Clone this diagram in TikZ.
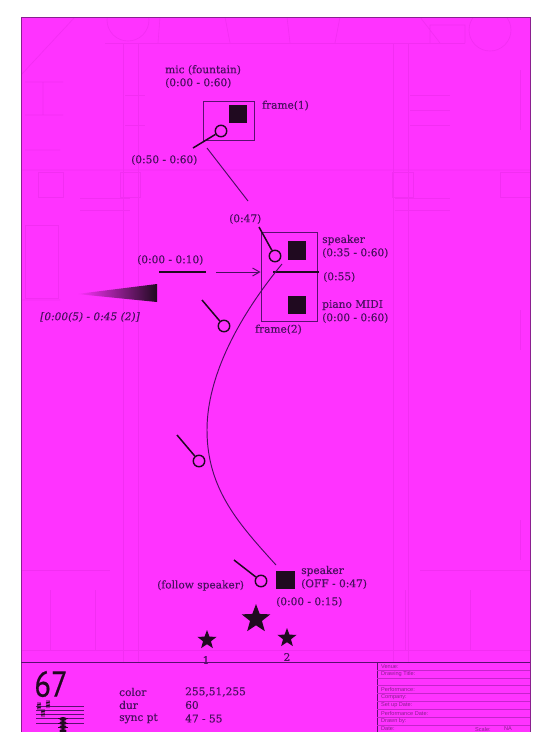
\documentclass[tikz,border=0pt]{standalone}
\usepackage{fontspec}
\setmainfont[FakeStretch=1.0,FakeBold=0.35]{DejaVu Serif}
\newfontfamily\numfont[FakeBold=0.5]{PT Sans}
\newfontfamily\smallfont{Liberation Sans}
\usetikzlibrary{shapes.geometric,arrows.meta}
\definecolor{mag}{HTML}{FF33FF}
\definecolor{ghost}{HTML}{F22EF2}
\definecolor{ink}{HTML}{200A20}
\definecolor{txt}{HTML}{4A1060}
\definecolor{edge}{HTML}{8A1F90}
\definecolor{rulec}{HTML}{5A1070}
\tikzset{
  lab/.style={text=txt,inner sep=0pt,anchor=west,font=\fontsize{10.6}{12}\selectfont},
  tiny/.style={text=edge,inner sep=0pt,anchor=west,font=\smallfont\fontsize{5.6}{6}\selectfont},
  blk/.style={fill=ink,draw=none,minimum size=18.5pt,inner sep=0pt},
  mic/.style={circle,draw=ink,line width=1.4pt,fill=mag,minimum size=11.5pt,inner sep=0pt},
  stem/.style={draw=ink,line width=1.5pt},
  heavy/.style={draw=ink,line width=2.1pt},
  thin/.style={draw=txt,line width=0.95pt},
  framebox/.style={draw=rulec,line width=1pt,fill=none,inner sep=0pt},
  starry/.style={star,star points=5,star point ratio=2.4,fill=ink,draw=none,inner sep=0pt},
  gh/.style={draw=ghost,line width=0.6pt},
}
\begin{document}
\begin{tikzpicture}[x=1pt,y=-1pt]
\useasboundingbox (0,0) rectangle (554,732);
\fill[white] (0,0) rectangle (554,732);
\fill[mag] (21,17) rectangle (530,732);
% faint plan
\begin{scope}
\clip (21,17) rectangle (530,662);
\draw[gh] (128,20) circle (21) (490,30) circle (21);
\draw[gh] (105,43) -- (465,43) (123,43) -- (123,662) (408,43) -- (408,662) (138,43) -- (138,662) (393,43) -- (393,662);
\draw[gh] (21,170) -- (530,170) (21,300) -- (60,300) (160,17) -- (158,43) (225,17) -- (230,43) (287,17) -- (290,43) (340,17) -- (335,43) (420,17) -- (440,43) (430,43) -- (430,25) -- (465,25) -- (465,43);
\draw[gh] (38,172) rectangle (63,197) (120,172) rectangle (140,197) (392,172) rectangle (413,197) (25,225) rectangle (58,298) (500,172) rectangle (530,197);
\draw[gh] (25,82) -- (63,82) (25,115) -- (63,115) (43,82) -- (43,115) (25,150) -- (60,150) (21,75) -- (75,17);
\draw[gh] (125,95) -- (145,95) (125,125) -- (145,125) (410,95) -- (450,95) (410,110) -- (450,110) (410,125) -- (450,125) (80,198) -- (130,198) (80,210) -- (130,210) (395,198) -- (450,198) (395,210) -- (450,210);
\draw[gh] (21,650) -- (530,650) (50,590) -- (50,650) (95,590) -- (95,650) (405,590) -- (405,650) (470,590) -- (470,650) (21,570) -- (110,570) (420,570) -- (530,570);
\draw[gh] (520,70) -- (520,130) (520,310) -- (520,350) (520,520) -- (520,560);
\end{scope}
\draw[edge,line width=1pt] (21,17) rectangle (530,732);
% frame 1
\node[framebox,minimum width=51pt,minimum height=39pt] (f1) at (228.5,120.5) {};
\node[blk] (s1) at (238,114) {};
\coordinate (m1end) at (193,148);
\node[mic] (m1) at (221,131) {};
\draw[stem] (m1end) -- (m1);
\node[lab] (t1) at (165,70) {mic (fountain)};
\node[lab] (t2) at (165,83) {(0:00 - 0:60)};
\node[lab] (t3) at (262,105.5) {frame(1)};
\node[lab] (t4) at (131,160) {(0:50 - 0:60)};
% link
\coordinate (c1) at (207,148);
\coordinate (c2) at (248,201);
\draw[thin] (c1) -- (c2);
% frame 2
\node[framebox,minimum width=56pt,minimum height=89pt] (f2) at (289,276.5) {};
\node[blk] (s2) at (297,250.5) {};
\node[blk] (s3) at (297,305) {};
\coordinate (m2end) at (259,227);
\node[mic] (m2) at (275,256) {};
\draw[stem] (m2end) -- (m2);
\node[lab] (t5) at (229,219) {(0:47)};
\node[lab] (t6) at (322,240) {speaker};
\node[lab] (t7) at (322,253) {(0:35 - 0:60)};
\node[lab] (t8) at (323,277) {(0:55)};
\node[lab] (t9) at (322,305) {piano MIDI};
\node[lab] (t10) at (322,318) {(0:00 - 0:60)};
\node[lab] (t11) at (255,329.5) {frame(2)};
\node[lab] (t12) at (137,260) {(0:00 - 0:10)};
% heavy lines and arrow
\coordinate (h1a) at (159,272); \coordinate (h1b) at (206,272);
\coordinate (h2a) at (273,272); \coordinate (h2b) at (319,272);
\draw[heavy] (h1a) -- (h1b);
\draw[heavy] (h2a) -- (h2b);
\coordinate (a1) at (216,272);
\draw[thin,-{Straight Barb[length=7pt,width=8pt]}] (a1) -- (f2.west |- a1);
% wedge
\shade[left color=mag,right color=ink] (77,294) -- (157,284) -- (157,302) -- cycle;
\node[lab,font=\fontsize{10.6}{12}\selectfont\itshape] (t13) at (40,317) {[0:00(5) - 0:45 (2)]};
% free mics
\coordinate (m3end) at (202,300);
\node[mic] (m3) at (224,326) {};
\draw[stem] (m3end) -- (m3);
\coordinate (m4end) at (177,435);
\node[mic] (m4) at (199,461) {};
\draw[stem] (m4end) -- (m4);
% curve
\coordinate (k1) at (282,264);
\coordinate (k2) at (276,565);
\draw[thin] (k1) .. controls (240,315) and (207,375) .. (207,430) .. controls (207,490) and (240,525) .. (k2);
% bottom
\node[blk] (s4) at (285.5,580) {};
\coordinate (m5end) at (234,560);
\node[mic] (m5) at (261,581) {};
\draw[stem] (m5end) -- (m5);
\node[lab] (t14) at (301,571) {speaker};
\node[lab] (t15) at (301,584) {(OFF - 0:47)};
\node[lab] (t16) at (276,602) {(0:00 - 0:15)};
\node[lab] (t17) at (157,585.5) {(follow speaker)};
\node[starry,minimum size=30pt] (st0) at (256,619) {};
\node[starry,minimum size=20pt] (st1) at (207,640) {};
\node[starry,minimum size=20pt] (st2) at (287,638) {};
\node[lab,anchor=center] (n1) at (206,660) {1};
\node[lab,anchor=center] (n2) at (287,657) {2};
% panel
\draw[rulec,line width=1pt] (21,662) -- (530,662) (377,662) -- (377,732);
\node[inner sep=0pt,text=ink,xscale=0.85,font=\numfont\fontsize{36}{38}\selectfont] (num) at (51,684) {67};
\node[lab] (c1a) at (119,692) {color};
\node[lab] (c1b) at (185,692) {255,51,255};
\node[lab] (c2a) at (119,705) {dur};
\node[lab] (c2b) at (185,705) {60};
\node[lab] (c3a) at (119,718.5) {sync pt};
\node[lab] (c3b) at (185,718.5) {47 - 55};
% staff
\foreach \yy in {706,710,714,718,723} \draw[rulec,line width=0.5pt] (36,\yy) -- (84,\yy);
\foreach \xx/\yy in {39/706,48/704,43/713} {\draw[ink,line width=0.9pt] (\xx-2,\yy-1) -- (\xx+2,\yy-2) (\xx-2,\yy+2) -- (\xx+2,\yy+1) (\xx-1,\yy-4) -- (\xx-1,\yy+4) (\xx+1,\yy-4) -- (\xx+1,\yy+4);}
\foreach \yy in {719,723,727,731} \fill[ink] (63,\yy) ellipse (3.6 and 2);
\draw[ink,line width=0.5pt] (58,718) -- (68,718) (58,723) -- (68,723) (58,727) -- (68,727);
% title block
\foreach \yy in {670,678,685,693,701,709,717,725} \draw[ghost!70!rulec,line width=0.35pt] (377,\yy) -- (530,\yy);
\node[tiny] at (381,666.5) {Venue:};
\node[tiny] at (381,674.5) {Drawing Title:};
\node[tiny] at (381,689.5) {Performance:};
\node[tiny] at (381,697.5) {Company:};
\node[tiny] at (381,705.5) {Set up Date:};
\node[tiny] at (381,713.5) {Performance Date:};
\node[tiny] at (381,721.5) {Drawn by:};
\node[tiny] at (381,729) {Date:};
\node[tiny] at (475,729) {Scale:};
\node[tiny] at (504,729) {NA};
\end{tikzpicture}
\end{document}
